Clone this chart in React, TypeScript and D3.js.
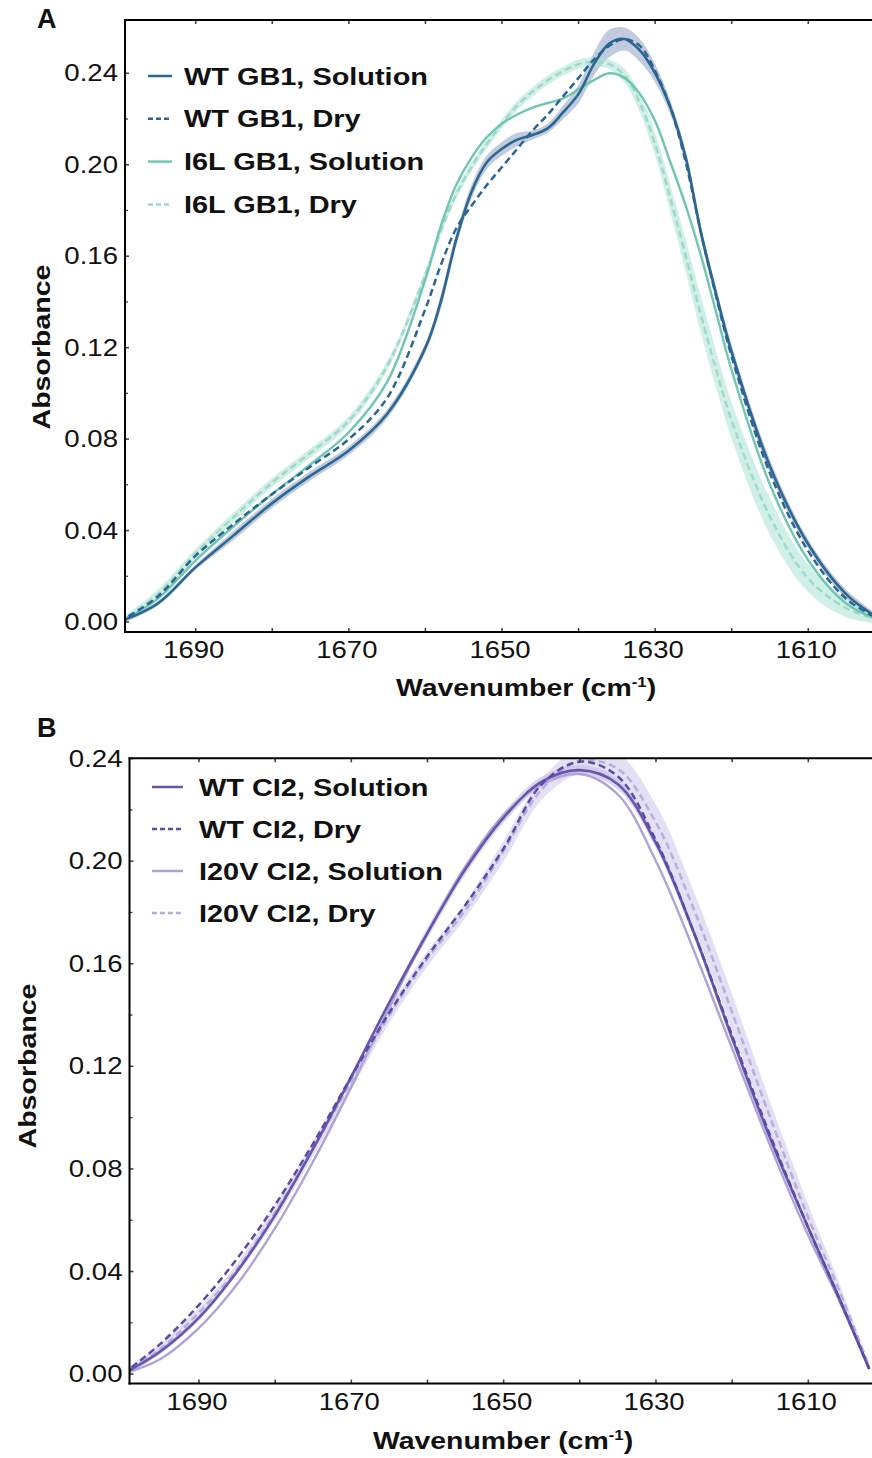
import React from 'react';
import * as d3 from 'd3';

// ---------- Panel A data (GB1) ----------
const waveA = [1700, 1695, 1690, 1685, 1680, 1675, 1670, 1665, 1660,
  1658, 1656, 1654, 1652, 1650, 1648, 1646, 1644, 1642, 1640, 1638, 1636, 1634, 1632, 1630, 1628, 1626, 1624, 1622, 1620,
  1615, 1610, 1605, 1600];
const wtGB1Solution = [0.000, 0.008, 0.024, 0.038, 0.052, 0.064, 0.075, 0.091, 0.120,
  0.140, 0.167, 0.188, 0.201, 0.207, 0.211, 0.213, 0.216, 0.223, 0.231, 0.244, 0.253, 0.255, 0.250, 0.240, 0.225, 0.203, 0.170, 0.143, 0.118,
  0.068, 0.034, 0.012, 0.000];
const wtGB1SolutionSd = [0.001, 0.001, 0.001, 0.002, 0.002, 0.002, 0.002, 0.002, 0.002,
  0.003, 0.003, 0.003, 0.003, 0.003, 0.003, 0.002, 0.002, 0.003, 0.004, 0.005, 0.006, 0.005, 0.005, 0.004, 0.003, 0.003, 0.003, 0.003, 0.003,
  0.003, 0.002, 0.002, 0.001];
const wtGB1Dry = [0.000, 0.011, 0.029, 0.043, 0.056, 0.068, 0.080, 0.098, 0.137,
  0.156, 0.172, 0.182, 0.191, 0.199, 0.207, 0.215, 0.222, 0.230, 0.238, 0.246, 0.252, 0.255, 0.252, 0.241, 0.225, 0.201, 0.170, 0.142, 0.116,
  0.065, 0.031, 0.010, 0.000];
const i6lGB1Solution = [0.000, 0.010, 0.027, 0.042, 0.056, 0.069, 0.083, 0.105, 0.150,
  0.173, 0.191, 0.203, 0.212, 0.218, 0.222, 0.225, 0.227, 0.229, 0.233, 0.237, 0.240, 0.238, 0.231, 0.219, 0.201, 0.182, 0.160, 0.135, 0.110,
  0.060, 0.027, 0.008, 0.000];
const i6lGB1Dry = [0.000, 0.012, 0.030, 0.046, 0.061, 0.074, 0.088, 0.112, 0.152,
  0.171, 0.187, 0.199, 0.209, 0.218, 0.226, 0.232, 0.237, 0.241, 0.244, 0.245, 0.244, 0.239, 0.227, 0.209, 0.185, 0.160, 0.134, 0.110, 0.088,
  0.046, 0.019, 0.006, 0.000];
const i6lGB1DrySd = [0.001, 0.002, 0.002, 0.002, 0.002, 0.002, 0.002, 0.002, 0.002,
  0.002, 0.002, 0.002, 0.002, 0.002, 0.002, 0.002, 0.002, 0.002, 0.002, 0.002, 0.002, 0.003, 0.004, 0.005, 0.006, 0.007, 0.008, 0.008, 0.008,
  0.008, 0.006, 0.004, 0.001];

// ---------- Panel B data (CI2) ----------
const waveB = [1700, 1695, 1690, 1685, 1680, 1675, 1670, 1665, 1660, 1655, 1650, 1645, 1640, 1635, 1630, 1625, 1620, 1615, 1610, 1606, 1602];
const wtCI2Solution = [0.000, 0.009, 0.022, 0.040, 0.062, 0.088, 0.116, 0.145, 0.172, 0.197, 0.217, 0.231, 0.2355, 0.230, 0.207, 0.172, 0.131, 0.092, 0.057, 0.030, 0.002];
const wtCI2SolutionSd = [0.001, 0.001, 0.001, 0.001, 0.001, 0.001, 0.001, 0.001, 0.002, 0.002, 0.002, 0.002, 0.002, 0.002, 0.002, 0.002, 0.002, 0.002, 0.001, 0.001, 0.001];
const wtCI2Dry = [0.000, 0.012, 0.027, 0.045, 0.066, 0.090, 0.116, 0.141, 0.163, 0.183, 0.205, 0.230, 0.2388, 0.233, 0.208, 0.172, 0.132, 0.093, 0.057, 0.030, 0.002];
const i20vCI2Solution = [0.000, 0.006, 0.018, 0.035, 0.057, 0.083, 0.112, 0.143, 0.172, 0.198, 0.218, 0.230, 0.234, 0.226, 0.200, 0.165, 0.127, 0.089, 0.054, 0.029, 0.002];
const i20vCI2Dry = [0.000, 0.010, 0.024, 0.041, 0.063, 0.088, 0.114, 0.140, 0.162, 0.181, 0.204, 0.228, 0.239, 0.236, 0.215, 0.181, 0.141, 0.100, 0.061, 0.033, 0.003];
const i20vCI2DrySd = [0.001, 0.002, 0.002, 0.002, 0.003, 0.003, 0.003, 0.003, 0.003, 0.003, 0.004, 0.004, 0.005, 0.006, 0.007, 0.007, 0.007, 0.006, 0.005, 0.003, 0.001];

// ---------- Axis ticks ----------
const yMajorTicks = [0, 0.04, 0.08, 0.12, 0.16, 0.2, 0.24];
const yMinorTicks = [0.02, 0.06, 0.1, 0.14, 0.18, 0.22];
const xTicks = [1690, 1680, 1670, 1660, 1650, 1640, 1630, 1620, 1610];
const xLabelTicks = [1690, 1670, 1650, 1630, 1610];

const legendA = ['WT GB1, Solution', 'WT GB1, Dry', 'I6L GB1, Solution', 'I6L GB1, Dry'];
const legendB = ['WT CI2, Solution', 'WT CI2, Dry', 'I20V CI2, Solution', 'I20V CI2, Dry'];

const FONT = "'Liberation Sans', Arial, Helvetica, sans-serif";

type Series = {
  name: string;
  values: number[];
  sd?: number[];
  color: string;
  band?: string;
  dashed: boolean;
  width: number;
};

type PanelCfg = {
  label: string;
  labelX: number;
  labelY: number;
  wave: number[];
  series: Series[];
  drawOrder: number[];
  x1690: number;
  x1610: number;
  left: number;
  right: number;
  top: number;
  bottom: number;
  y0: number;
  y24: number;
  legendLineX1: number;
  legendLineX2: number;
  legendTextX: number;
  legendY0: number;
  legendStep: number;
  yTitleX: number;
  yTitleY: number;
  xTitleX: number;
  xTitleY: number;
  id: string;
};

function HText(props: { x: number; y: number; sx: number; size: number; anchor: string; bold?: boolean; children: React.ReactNode }) {
  const { x, y, sx, size, anchor, bold, children } = props;
  return (
    <g transform={`translate(${x},${y}) scale(${sx},1)`}>
      <text x={0} y={0} fontSize={size} fontFamily={FONT} fontWeight={bold ? 'bold' : 'normal'} textAnchor={anchor} fill="#111">
        {children}
      </text>
    </g>
  );
}

function Panel({ cfg }: { cfg: PanelCfg }) {
  const x = d3.scaleLinear().domain([1690, 1610]).range([cfg.x1690, cfg.x1610]);
  const y = d3.scaleLinear().domain([0, 0.24]).range([cfg.y0, cfg.y24]);
  const curve = d3.curveCatmullRom.alpha(0.5);
  const line = d3.line<number>().x((_, i) => x(cfg.wave[i])).y((d) => y(d)).curve(curve);
  const area = (vals: number[], sd: number[]) =>
    d3.area<number>()
      .x((_, i) => x(cfg.wave[i]))
      .y0((d, i) => y(d - sd[i]))
      .y1((d, i) => y(d + sd[i]))
      .curve(curve)(vals) || '';
  const clipId = `clip-${cfg.id}`;
  const tickColor = '#444';
  return (
    <g>
      <defs>
        <clipPath id={clipId}>
          <rect x={cfg.left} y={cfg.top} width={cfg.right - cfg.left} height={cfg.bottom - cfg.top} />
        </clipPath>
      </defs>
      <text x={cfg.labelX} y={cfg.labelY} fontSize={27} fontWeight="bold" fontFamily={FONT} fill="#111">{cfg.label}</text>
      <g clipPath={`url(#${clipId})`}>
        {cfg.series.map((s, i) =>
          s.sd ? <path key={'b' + i} d={area(s.values, s.sd)} fill={s.band} stroke="none" /> : null
        )}
        {cfg.drawOrder.map((i) => {
          const s = cfg.series[i];
          return (
            <path key={'l' + i} d={line(s.values) || ''} fill="none" stroke={s.color} strokeWidth={s.width}
              strokeDasharray={s.dashed ? '7,4' : undefined} strokeLinejoin="round" />
          );
        })}
      </g>
      {/* ticks */}
      {yMajorTicks.map((t) => (
        <line key={'ym' + t} x1={cfg.left} x2={cfg.left + 4} y1={y(t)} y2={y(t)} stroke={tickColor} strokeWidth={1.6} />
      ))}
      {yMinorTicks.map((t) => (
        <line key={'yn' + t} x1={cfg.left} x2={cfg.left + 3} y1={y(t)} y2={y(t)} stroke={tickColor} strokeWidth={1.3} />
      ))}
      {xTicks.map((t) => (
        <g key={'xt' + t}>
          <line x1={x(t)} x2={x(t)} y1={cfg.bottom} y2={cfg.bottom - 4} stroke={tickColor} strokeWidth={1.6} />
          <line x1={x(t)} x2={x(t)} y1={cfg.top} y2={cfg.top + 4} stroke={tickColor} strokeWidth={1.6} />
        </g>
      ))}
      {/* frame */}
      <line x1={cfg.left} x2={cfg.left} y1={cfg.top - 1} y2={cfg.bottom + 1} stroke="#000" strokeWidth={2} />
      <line x1={cfg.left - 1} x2={cfg.right} y1={cfg.bottom} y2={cfg.bottom} stroke="#000" strokeWidth={2} />
      <line x1={cfg.left - 1} x2={cfg.right} y1={cfg.top} y2={cfg.top} stroke="#000" strokeWidth={2} />
      {/* tick labels */}
      {yMajorTicks.map((t) => (
        <HText key={'yl' + t} x={cfg.left - 7} y={y(t) + 8} sx={1.2} size={23} anchor="end">{d3.format('.2f')(t)}</HText>
      ))}
      {xLabelTicks.map((t) => (
        <HText key={'xl' + t} x={x(t) - 2} y={cfg.bottom + 26} sx={1.17} size={23.5} anchor="middle">{t}</HText>
      ))}
      {/* axis titles */}
      <g transform={`translate(${cfg.yTitleX},${cfg.yTitleY}) rotate(-90) scale(1.19,1)`}>
        <text x={0} y={0} fontSize={24} fontWeight="bold" fontFamily={FONT} textAnchor="middle" fill="#111">Absorbance</text>
      </g>
      <g transform={`translate(${cfg.xTitleX},${cfg.xTitleY}) scale(1.2,1)`}>
        <text x={0} y={0} fontSize={23.7} fontWeight="bold" fontFamily={FONT} textAnchor="middle" fill="#111">
          Wavenumber (cm<tspan fontSize={14} dy={-9}>-1</tspan><tspan dy={9}>)</tspan>
        </text>
      </g>
      {/* legend */}
      {cfg.series.map((s, i) => {
        const cy = cfg.legendY0 + i * cfg.legendStep;
        return (
          <g key={'lg' + i}>
            <line x1={cfg.legendLineX1} x2={cfg.legendLineX2} y1={cy} y2={cy} stroke={s.color} strokeWidth={2.5}
              strokeDasharray={s.dashed ? '5,3' : undefined} />
            <HText x={cfg.legendTextX} y={cy + 8.5} sx={1.23} size={23.5} anchor="start" bold>{s.name}</HText>
          </g>
        );
      })}
    </g>
  );
}

const cfgA: PanelCfg = {
  id: 'a',
  label: 'A',
  labelX: 37,
  labelY: 28,
  wave: waveA,
  series: [
    { name: legendA[0], values: wtGB1Solution, sd: wtGB1SolutionSd, color: '#2b6791', band: 'rgba(120,140,180,0.45)', dashed: false, width: 2.6 },
    { name: legendA[1], values: wtGB1Dry, color: '#2b6593', dashed: true, width: 2.5 },
    { name: legendA[2], values: i6lGB1Solution, color: '#6fc6b1', dashed: false, width: 2.4 },
    { name: legendA[3], values: i6lGB1Dry, sd: i6lGB1DrySd, color: '#9fd9cb', band: 'rgba(170,225,212,0.55)', dashed: true, width: 2.5 },
  ],
  drawOrder: [3, 2, 0, 1],
  x1690: 195.7,
  x1610: 808.3,
  left: 125,
  right: 900,
  top: 20,
  bottom: 632,
  y0: 622,
  y24: 73.3,
  legendLineX1: 148,
  legendLineX2: 172,
  legendTextX: 184,
  legendY0: 76,
  legendStep: 42.8,
  yTitleX: 50,
  yTitleY: 347,
  xTitleX: 526,
  xTitleY: 696,
};

const cfgB: PanelCfg = {
  id: 'b',
  label: 'B',
  labelX: 37,
  labelY: 737,
  wave: waveB,
  series: [
    { name: legendB[0], values: wtCI2Solution, sd: wtCI2SolutionSd, color: '#6a55ad', band: 'rgba(150,135,205,0.35)', dashed: false, width: 2.6 },
    { name: legendB[1], values: wtCI2Dry, color: '#5d4aa5', dashed: true, width: 2.5 },
    { name: legendB[2], values: i20vCI2Solution, color: '#ada3d6', dashed: false, width: 2.4 },
    { name: legendB[3], values: i20vCI2Dry, sd: i20vCI2DrySd, color: '#b8aedd', band: 'rgba(200,194,232,0.5)', dashed: true, width: 2.5 },
  ],
  drawOrder: [2, 3, 0, 1],
  x1690: 199,
  x1610: 808.3,
  left: 129.5,
  right: 900,
  top: 758.3,
  bottom: 1383.5,
  y0: 1374.1,
  y24: 758.6,
  legendLineX1: 152,
  legendLineX2: 183,
  legendTextX: 199,
  legendY0: 787,
  legendStep: 42,
  yTitleX: 36,
  yTitleY: 1066,
  xTitleX: 503,
  xTitleY: 1449,
};

export default function App() {
  return (
    <svg width={872} height={1458} viewBox="0 0 872 1458"
      style={{ position: 'absolute', left: 0, top: 0, background: '#fff', display: 'block' }}>
      <rect x={0} y={0} width={872} height={1458} fill="#fff" />
      <Panel cfg={cfgA} />
      <Panel cfg={cfgB} />
    </svg>
  );
}
